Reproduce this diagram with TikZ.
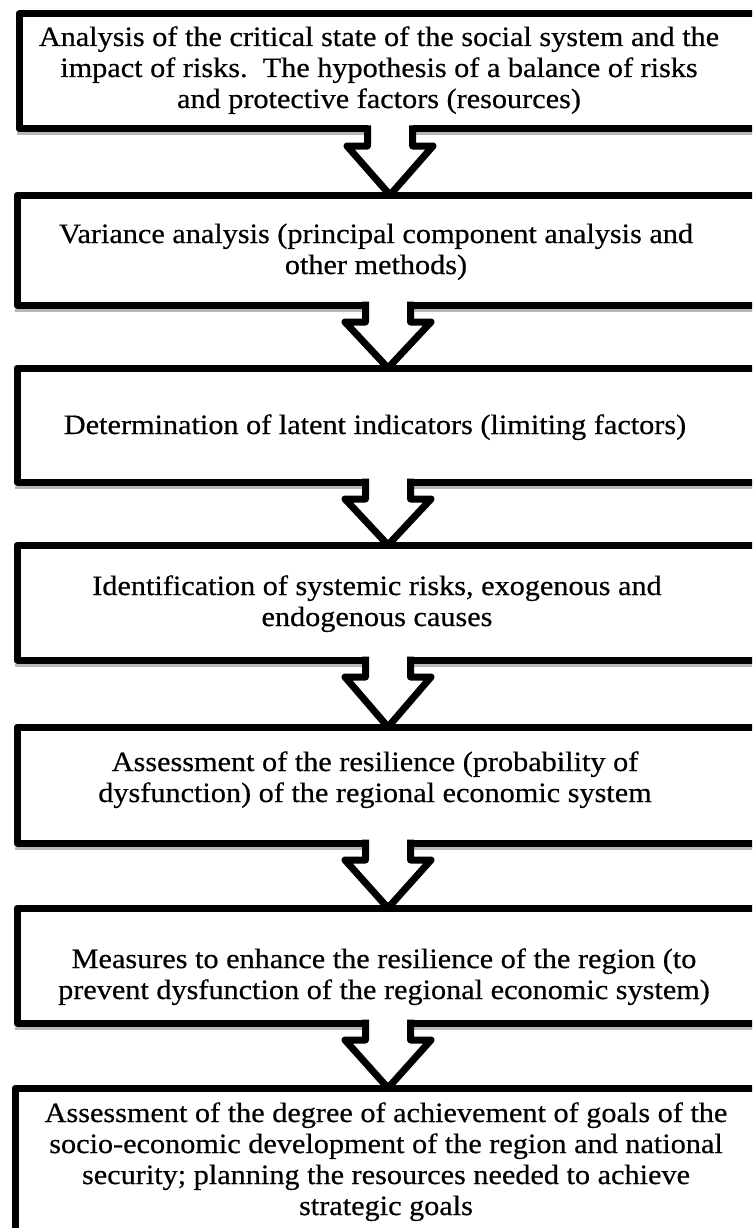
\documentclass[tikz,border=0pt]{standalone}
\usepackage{fontspec}
\setmainfont{Liberation Serif}[FakeStretch=1.08,FakeBold=0.5]
\usetikzlibrary{calc}
\tikzset{
  stepbox/.style={draw=black, line width=7pt, line join=round, inner sep=0pt, outer sep=0pt},
  shadowline/.style={draw=black!28, line width=3pt},
  arrline/.style={draw=black, line width=7pt, line join=round},
  arrfill/.style={fill=white},
  txt/.style={inner sep=0pt, outer sep=0pt, anchor=base, font=\fontsize{28}{31}\selectfont},
}
\newcommand{\boxlines}[1]{\begin{tabular}[t]{@{}c@{}}#1\end{tabular}}
\newcommand{\blockarr}[2]{%
  \fill[arrfill] ([xshift=-22.5pt,yshift=4pt]#1.south) rectangle ([xshift=22.5pt,yshift=-17pt]#1.south);
  \draw[arrline] ([xshift=-22.5pt,yshift=3.5pt]#1.south) -- ([xshift=-22.5pt,yshift=-17pt]#1.south)
     -- ([xshift=-43pt,yshift=-17pt]#1.south) -- (#1.south |- #2.north)
     -- ([xshift=43pt,yshift=-17pt]#1.south) -- ([xshift=22.5pt,yshift=-17pt]#1.south)
     -- ([xshift=22.5pt,yshift=3.5pt]#1.south);}
\newcommand{\boxshadow}[1]{%
  \draw[shadowline] ([xshift=-2pt,yshift=-5pt]#1.south west) -- ([yshift=-5pt]#1.south east);}
\begin{document}
\begin{tikzpicture}[x=1pt,y=-1pt]
\useasboundingbox (0,0) rectangle (752,1228);
\clip (0,0) rectangle (752,1228);
% boxes
\node[stepbox, minimum width=742pt, minimum height=115pt] (b1) at (390,71.5) {};
\node[stepbox, minimum width=742pt, minimum height=110pt] (b2) at (388,250) {};
\node[stepbox, minimum width=742pt, minimum height=114pt] (b3) at (388,425) {};
\node[stepbox, minimum width=742pt, minimum height=115pt] (b4) at (388,602.5) {};
\node[stepbox, minimum width=742pt, minimum height=116pt] (b5) at (388,785) {};
\node[stepbox, minimum width=742pt, minimum height=115pt] (b6) at (388,965.5) {};
\node[stepbox, minimum width=746pt, minimum height=162pt] (b7) at (388,1169) {};
\boxshadow{b1}\boxshadow{b2}\boxshadow{b3}\boxshadow{b4}\boxshadow{b5}\boxshadow{b6}
% block arrows
\blockarr{b1}{b2}
\blockarr{b2}{b3}
\blockarr{b3}{b4}
\blockarr{b4}{b5}
\blockarr{b5}{b6}
\blockarr{b6}{b7}
% texts
\node[txt] (t1) at (379,46) {\boxlines{Analysis of the critical state of the social system and the\\impact of risks.\ \ The hypothesis of a balance of risks\\and protective factors (resources)}};
\node[txt] (t2) at (376,243) {\boxlines{Variance analysis (principal component analysis and\\other methods)}};
\node[txt] (t3) at (375,434) {\boxlines{Determination of latent indicators (limiting factors)}};
\node[txt] (t4) at (377,595) {\boxlines{Identification of systemic risks, exogenous and\\endogenous causes}};
\node[txt] (t5) at (375,771) {\boxlines{Assessment of the resilience (probability of\\dysfunction) of the regional economic system}};
\node[txt] (t6) at (384,968) {\boxlines{Measures to enhance the resilience of the region (to\\prevent dysfunction of the regional economic system)}};
\node[txt] (t7) at (386,1122) {\boxlines{Assessment of the degree of achievement of goals of the\\socio-economic development of the region and national\\security; planning the resources needed to achieve\\strategic goals}};
\end{tikzpicture}
\end{document}
